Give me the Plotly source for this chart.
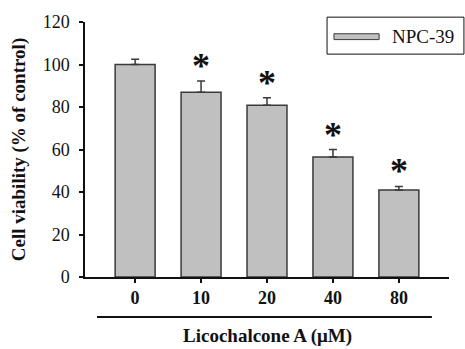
import plotly.graph_objects as go

concentrations = ["0", "10", "20", "40", "80"]
viability = [100.0, 87.0, 80.8, 56.5, 41.0]
sem = [2.5, 5.2, 3.5, 3.5, 1.6]
significant = [False, True, True, True, True]
y_ticks = [0, 20, 40, 60, 80, 100, 120]
series_name = "NPC-39"

SERIF = "Liberation Serif"
BAR_FILL = "#c0c0c0"
BAR_LINE = "#3a3a3a"

fig = go.Figure()
fig.add_trace(go.Bar(
    x=concentrations, y=viability, name=series_name,
    marker=dict(color=BAR_FILL, line=dict(color=BAR_LINE, width=1.5)),
    error_y=dict(type="data", array=sem, arrayminus=[0] * len(sem), symmetric=False,
                 color=BAR_LINE, thickness=1.5, width=4),
    showlegend=False,
))

annotations = []
for i, (v, e, s) in enumerate(zip(viability, sem, significant)):
    if s:
        annotations.append(dict(x=i, y=v + e, xref="x", yref="y", text="<b>*</b>",
                                showarrow=False, yanchor="middle", yshift=15,
                                font=dict(family=SERIF, size=36, color="#111")))

# x-axis group title with line
annotations.append(dict(x=0.5, y=-0.233, xref="paper", yref="paper",
                        text="<b>Licochalcone A (μM)</b>", showarrow=False,
                        yanchor="middle", font=dict(family=SERIF, size=19, color="#111")))
# legend text
annotations.append(dict(x=0.838, y=0.943, xref="paper", yref="paper", text=series_name,
                        showarrow=False, xanchor="left", yanchor="middle",
                        font=dict(family=SERIF, size=19, color="#111")))

shapes = [
    dict(type="line", xref="paper", yref="paper", x0=0.033, x1=0.953, y0=-0.1565, y1=-0.1565,
         line=dict(color="#111", width=2)),
    dict(type="rect", xref="paper", yref="paper", x0=0.665, x1=1.041, y0=0.874, y1=1.019,
         line=dict(color="#111", width=1), fillcolor="white", layer="below"),
    dict(type="rect", xref="paper", yref="paper", x0=0.684, x1=0.808, y0=0.931, y1=0.954,
         line=dict(color=BAR_LINE, width=1), fillcolor=BAR_FILL),
]

fig.update_layout(
    width=465, height=349,
    margin=dict(l=85, r=16, t=15, b=72),
    paper_bgcolor="white", plot_bgcolor="white",
    bargap=0.394,
    annotations=annotations, shapes=shapes,
    xaxis=dict(type="category", range=[-0.76, 4.76], showline=True, linecolor="#111", linewidth=1.5,
               ticks="outside", ticklen=4, tickwidth=1.5, tickcolor="#111",
               tickfont=dict(family=SERIF, size=18, color="#111"), showgrid=False,
               tickprefix="<b>", ticksuffix="</b>", zeroline=False),
    yaxis=dict(range=[0, 120], tickvals=y_ticks, showline=True, linecolor="#111", linewidth=1.5,
               ticks="outside", ticklen=4, tickwidth=1.5, tickcolor="#111",
               ticklabelstandoff=6,
               tickfont=dict(family=SERIF, size=18, color="#111"), showgrid=False,
               tickprefix="<b>", ticksuffix="</b>", zeroline=False,
               title=dict(text="<b>Cell viability (% of control)</b>", standoff=12,
                          font=dict(family=SERIF, size=19, color="#111"))),
)

fig.write_html("out.html")
